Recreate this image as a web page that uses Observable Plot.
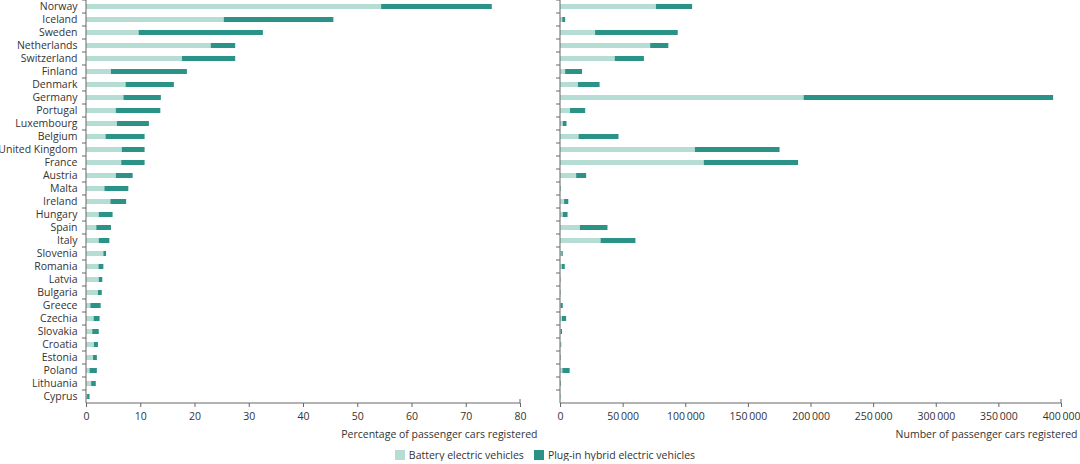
<!DOCTYPE html>
<html><head><meta charset="utf-8">
<script src="https://cdn.jsdelivr.net/npm/d3@7"></script>
<script src="https://cdn.jsdelivr.net/npm/@observablehq/plot@0.6"></script>
<style>
body{margin:0;background:#fff;font-family:"Open Sans",sans-serif;color:#333;}
#charts{display:flex;width:1080px;height:443px;}
#legend{display:flex;justify-content:center;align-items:center;gap:10px;width:1080px;height:18px;padding-top:5px;font-size:10.5px;padding-left:10px;box-sizing:border-box;}
.item{display:flex;align-items:center;gap:4px;}
.sw{width:10px;height:10px;display:inline-block;}
</style></head><body>
<div id="charts"></div>
<div id="legend"></div>
<script>
const countries = ["Norway","Iceland","Sweden","Netherlands","Switzerland","Finland","Denmark","Germany","Portugal","Luxembourg","Belgium","United Kingdom","France","Austria","Malta","Ireland","Hungary","Spain","Italy","Slovenia","Romania","Latvia","Bulgaria","Greece","Czechia","Slovakia","Croatia","Estonia","Poland","Lithuania","Cyprus"];
// percentage of new passenger cars registered
const bevShare  = [54.4,25.4,9.7,23.0,17.7,4.6,7.3,6.9,5.5,5.7,3.6,6.6,6.5,5.5,3.4,4.5,2.35,1.9,2.35,3.2,2.3,2.35,2.2,0.8,1.4,1.15,1.45,1.3,0.65,0.95,0.2];
const phevShare = [20.4,20.2,22.9,4.5,9.8,14.0,8.9,6.9,8.2,5.9,7.2,4.2,4.3,3.1,4.4,2.9,2.55,2.7,1.95,0.5,0.9,0.65,0.7,1.9,1.1,1.2,0.75,0.7,1.35,0.85,0.45];
// number of new passenger cars registered
const bevCount  = [76600,1800,28000,72000,43700,4100,14300,194500,8000,2200,14800,107700,114800,12900,300,3300,2200,15900,32400,1100,1400,300,400,500,1600,500,600,400,1900,400,100];
const phevCount = [28900,2300,66000,14500,23300,13500,17300,199200,12100,3000,31900,67600,75300,8000,300,3300,3800,22000,27800,1100,2400,200,200,1700,3300,1100,400,300,5800,400,200];
const seriesNames = ["Battery electric vehicles","Plug-in hybrid electric vehicles"];
const seriesColors = ["#b5ddd3","#2a9287"];
const shareTicks = [0,10,20,30,40,50,60,70,80];
const countTicks = [0,50000,100000,150000,200000,250000,300000,350000,400000];

function rows(a, b) {
  const out = [];
  countries.forEach((c, i) => {
    out.push({country: c, type: seriesNames[0], value: a[i]});
    out.push({country: c, type: seriesNames[1], value: b[i]});
  });
  return out;
}
const shareRows = rows(bevShare, phevShare);
const countRows = rows(bevCount, phevCount);

function axisLines(index, scales, values, dims) {
  const g = d3.create("svg:g").attr("stroke", "#666").attr("stroke-width", 1).attr("fill", "none");
  const xr = dims.width - dims.marginRight;
  const x0p = dims.marginLeft;
  const yBottom = dims.height - dims.marginBottom;
  const yTop = dims.marginTop;
  g.append("line").attr("x1", x0p).attr("x2", x0p).attr("y1", yTop).attr("y2", yBottom);
  g.append("line").attr("x1", x0p).attr("x2", xr).attr("y1", yBottom).attr("y2", yBottom);
  countries.forEach((c) => {
    const yy = scales.y(c);
    g.append("line").attr("x1", x0p - 4).attr("x2", x0p).attr("y1", yy).attr("y2", yy);
  });
  g.append("line").attr("x1", xr).attr("x2", xr).attr("y1", yBottom - 4).attr("y2", yBottom);
  return g.node();
}

const common = {
  width: 540, height: 443, marginTop: 0, marginBottom: 40,
  style: {fontFamily: "'Open Sans', sans-serif", fontSize: "10.5px", color: "#333", background: "#fff", overflow: "visible"},
  color: {domain: seriesNames, range: seriesColors}
};

const fmtSpace = d => d3.format(",")(d).replace(/,/g, "\u2009");

const left = Plot.plot({
  ...common,
  marginLeft: 86, marginRight: 20,
  x: {domain: [0, 80], ticks: shareTicks, tickSize: 4, label: null},
  y: {domain: countries, padding: 0, label: null},
  marks: [
    Plot.barX(shareRows, {x: "value", y: "country", fill: "type", insetTop: 4, insetBottom: 4}),
    Plot.axisY({tickSize: 0, tickPadding: 9, fontSize: 10.5, label: null}),
    Plot.axisX({ticks: shareTicks, tickSize: 4, stroke: "#666", label: "Percentage of passenger cars registered", labelAnchor: "right", labelArrow: "none", labelOffset: 34}),
    axisLines
  ]
});

const right = Plot.plot({
  ...common,
  marginLeft: 20, marginRight: 19,
  x: {domain: [0, 400000], ticks: countTicks, tickFormat: fmtSpace, label: null},
  y: {domain: countries, padding: 0, label: null, axis: null},
  marks: [
    Plot.barX(countRows, {x: "value", y: "country", fill: "type", insetTop: 4, insetBottom: 4}),
    Plot.axisX({ticks: countTicks, tickFormat: fmtSpace, tickSize: 4, stroke: "#666", label: "Number of passenger cars registered", labelAnchor: "right", labelArrow: "none", labelOffset: 34}),
    axisLines
  ]
});

document.getElementById("charts").append(left, right);

const legend = d3.select("#legend");
seriesNames.forEach((n, i) => {
  const it = legend.append("div").attr("class", "item");
  it.append("span").attr("class", "sw").style("background", seriesColors[i]);
  it.append("span").text(n);
});
</script>
</body></html>
